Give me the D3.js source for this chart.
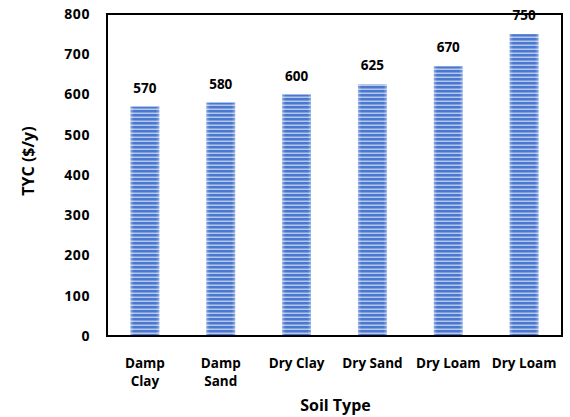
<!DOCTYPE html>
<html>
<head>
<meta charset="utf-8">
<script src="https://cdn.jsdelivr.net/npm/d3@7"></script>
<style>
  html, body { margin: 0; padding: 0; background: #fff; }
  svg { display: block; }
  text { font-family: "Open Sans", Lato, sans-serif; font-weight: bold; fill: #000; }
</style>
</head>
<body>
<svg id="chart" width="570" height="417"></svg>
<script>
// Soil types and yearly cost values
const categories = ["Damp Clay", "Damp Sand", "Dry Clay", "Dry Sand", "Dry Loam", "Dry Loam "];
const categoryLines = [["Damp", "Clay"], ["Damp", "Sand"], ["Dry Clay"], ["Dry Sand"], ["Dry Loam"], ["Dry Loam"]];
const values = [570, 580, 600, 625, 670, 750];
const yTicks = [0, 100, 200, 300, 400, 500, 600, 700, 800];

const width = 570, height = 417;
const margin = { top: 14, right: 8, bottom: 81, left: 107 };
const innerW = width - margin.left - margin.right;
const innerH = height - margin.top - margin.bottom;
const fontFamily = "'Open Sans', Lato, sans-serif";

const svg = d3.select("#chart");

// Striped fill for the bars
const defs = svg.append("defs");
const grad = defs.append("linearGradient").attr("id", "edge").attr("x1", 0).attr("x2", 1).attr("y1", 0).attr("y2", 0);
grad.append("stop").attr("offset", "0%").attr("stop-color", "#fff").attr("stop-opacity", 0.35);
grad.append("stop").attr("offset", "12%").attr("stop-color", "#fff").attr("stop-opacity", 0);
grad.append("stop").attr("offset", "88%").attr("stop-color", "#fff").attr("stop-opacity", 0);
grad.append("stop").attr("offset", "100%").attr("stop-color", "#fff").attr("stop-opacity", 0.35);

const pat = defs.append("pattern")
  .attr("id", "stripes")
  .attr("patternUnits", "userSpaceOnUse")
  .attr("width", 8).attr("height", 4);
pat.append("rect").attr("width", 8).attr("height", 4).attr("fill", "#b4c7ec");
pat.append("rect").attr("y", 0).attr("width", 8).attr("height", 2).attr("fill", "#4a78cf");
pat.append("rect").attr("y", 2).attr("width", 8).attr("height", 1).attr("fill", "#7f9fdc");

const g = svg.append("g").attr("transform", `translate(${margin.left},${margin.top})`);

const x = d3.scaleBand().domain(categories).range([0, innerW]).paddingInner(0.62).paddingOuter(0.31);
const y = d3.scaleLinear().domain([0, 800]).range([innerH, 0]);

// Bars
const bars = g.selectAll(".bar").data(values).enter().append("g").attr("class", "bar");
bars.append("rect")
  .attr("x", (d, i) => x(categories[i]))
  .attr("y", d => y(d))
  .attr("width", x.bandwidth())
  .attr("height", d => innerH - y(d))
  .attr("fill", "url(#stripes)");
bars.append("rect")
  .attr("x", (d, i) => x(categories[i]))
  .attr("y", d => y(d))
  .attr("width", x.bandwidth())
  .attr("height", d => innerH - y(d))
  .attr("fill", "url(#edge)");

// Value labels
g.selectAll(".val").data(values).enter().append("text")
  .attr("class", "val")
  .attr("x", (d, i) => x(categories[i]) + x.bandwidth() / 2)
  .attr("y", d => y(d) - 14)
  .attr("text-anchor", "middle")
  .attr("font-size", 13.5)
  .text(d => d);

// Plot frame
g.append("rect")
  .attr("x", 0).attr("y", 0)
  .attr("width", innerW).attr("height", innerH)
  .attr("fill", "none").attr("stroke", "#000").attr("stroke-width", 2);

// Y axis
const yAxis = g.append("g").call(d3.axisLeft(y).tickValues(yTicks).tickSize(0).tickPadding(17));
yAxis.select(".domain").remove();
yAxis.selectAll("text")
  .attr("font-size", 14)
  .attr("font-family", fontFamily)
  .attr("font-weight", "bold")
  .attr("letter-spacing", 0.6)
  .attr("fill", "#000");

// X axis with wrapped labels
const xAxis = g.append("g").attr("transform", `translate(0,${innerH})`)
  .call(d3.axisBottom(x).tickSize(0).tickFormat(""));
xAxis.select(".domain").remove();
xAxis.selectAll(".tick").each(function(d, i) {
  const t = d3.select(this).append("text")
    .attr("text-anchor", "middle")
    .attr("font-size", 13.5)
    .attr("y", 32);
  categoryLines[i].forEach((line, j) => {
    t.append("tspan").attr("x", 0).attr("dy", j === 0 ? 0 : 18).text(line);
  });
});

// Axis titles
svg.append("text")
  .attr("transform", `translate(34,${margin.top + innerH / 2 - 14}) rotate(-90)`)
  .attr("text-anchor", "middle")
  .attr("font-size", 16)
  .text("TYC ($/y)");

svg.append("text")
  .attr("x", margin.left + innerW / 2 + 1)
  .attr("y", 411)
  .attr("text-anchor", "middle")
  .attr("font-size", 16)
  .text("Soil Type");
</script>
</body>
</html>
